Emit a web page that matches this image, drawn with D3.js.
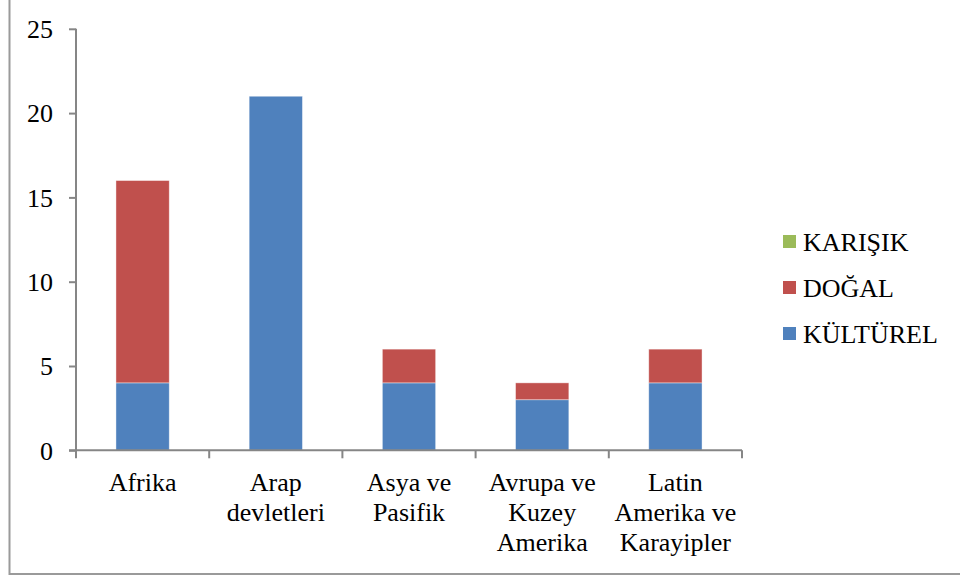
<!DOCTYPE html>
<html><head><meta charset="utf-8">
<script src="https://cdn.jsdelivr.net/npm/d3@7"></script>
<style>body{margin:0;background:#fff}svg{display:block}
text{font-family:"Liberation Serif","Times New Roman",serif;}</style>
</head><body>
<svg id="c" width="960" height="577"></svg>
<script>
const categories = [["Afrika"],["Arap","devletleri"],["Asya ve","Pasifik"],["Avrupa ve","Kuzey","Amerika"],["Latin","Amerika ve","Karayipler"]];
const kulturel = [4,21,4,3,4];
const dogal = [12,0,2,1,2];
const karisik = [0,0,0,0,0];
const seriesNames = ["KÜLTÜREL","DOĞAL","KARIŞIK"];
const seriesColors = ["#4F81BD","#C0504D","#9BBB59"];
const yTicks = [0,5,10,15,20,25];

const svg = d3.select("#c");
svg.append("rect").attr("x",9.5).attr("y",-1).attr("width",1000).attr("height",575).attr("fill","none").attr("stroke","#9a9a9a").attr("stroke-width",2);

const x0 = 76, x1 = 742, yTop = 28.8, yBot = 450.3;
const idx = categories.map((d,i)=>i);
const x = d3.scaleBand().domain(idx).range([x0,x1]).paddingInner(0).paddingOuter(0);
const y = d3.scaleLinear().domain([0,25]).range([yBot,yTop]);

const table = idx.map(i=>({i, "KÜLTÜREL":kulturel[i], "DOĞAL":dogal[i], "KARIŞIK":karisik[i]}));
const stacked = d3.stack().keys(seriesNames)(table);
const bw = x.bandwidth()*0.4;
stacked.forEach((s,k)=>{
  svg.append("g").selectAll("rect").data(s.filter(d=>d[1]-d[0]>0)).join("rect")
    .attr("x",d=>x(d.data.i)+(x.bandwidth()-bw)/2)
    .attr("y",d=>y(d[1]))
    .attr("width",bw)
    .attr("height",d=>y(d[0])-y(d[1]))
    .attr("fill",seriesColors[k])
    .attr("stroke","rgba(255,255,255,0.5)").attr("stroke-width",0.8);
});

const axisColor = "#868686";
const ya = svg.append("g").attr("transform",`translate(${x0},0)`)
  .call(d3.axisLeft(y).tickValues(yTicks).tickSize(7).tickPadding(16));
ya.attr("font-family",null).attr("font-size",null);
ya.select(".domain").attr("stroke",axisColor).attr("stroke-width",2).attr("d",`M-0,${yTop}V${yBot}`);
ya.selectAll(".tick line").attr("stroke",axisColor).attr("stroke-width",2);
ya.selectAll(".tick text").style("font-size","26px").attr("fill","#000").attr("dy","0.34em");

const xa = svg.append("g").attr("transform",`translate(0,${yBot})`);
xa.append("line").attr("x1",x0-7).attr("x2",x1).attr("y1",0).attr("y2",0).attr("stroke",axisColor).attr("stroke-width",2);
const bounds = idx.map(i=>x(i)).concat([x1]);
xa.selectAll("line.t").data(bounds).join("line").attr("class","t")
  .attr("x1",d=>d).attr("x2",d=>d).attr("y1",0).attr("y2",8).attr("stroke",axisColor).attr("stroke-width",2);
const lab = xa.selectAll("text").data(idx).join("text")
  .style("font-size","26px").attr("text-anchor","middle").attr("fill","#000")
  .attr("transform",i=>`translate(${x(i)+x.bandwidth()/2},41)`);
lab.selectAll("tspan").data(i=>categories[i]).join("tspan")
  .attr("x",0).attr("dy",(d,j)=>j===0?0:30).text(d=>d);

const legendOrder = [2,1,0];
const lg = svg.append("g");
legendOrder.forEach((k,j)=>{
  const cy = 241.5 + j*46;
  lg.append("rect").attr("x",783).attr("y",cy-6.5).attr("width",13).attr("height",13).attr("fill",seriesColors[k]);
  lg.append("text").attr("x",803).attr("y",cy).attr("dy","0.35em").style("font-size","26px").attr("fill","#000").text(seriesNames[k]);
});
</script>
</body></html>
